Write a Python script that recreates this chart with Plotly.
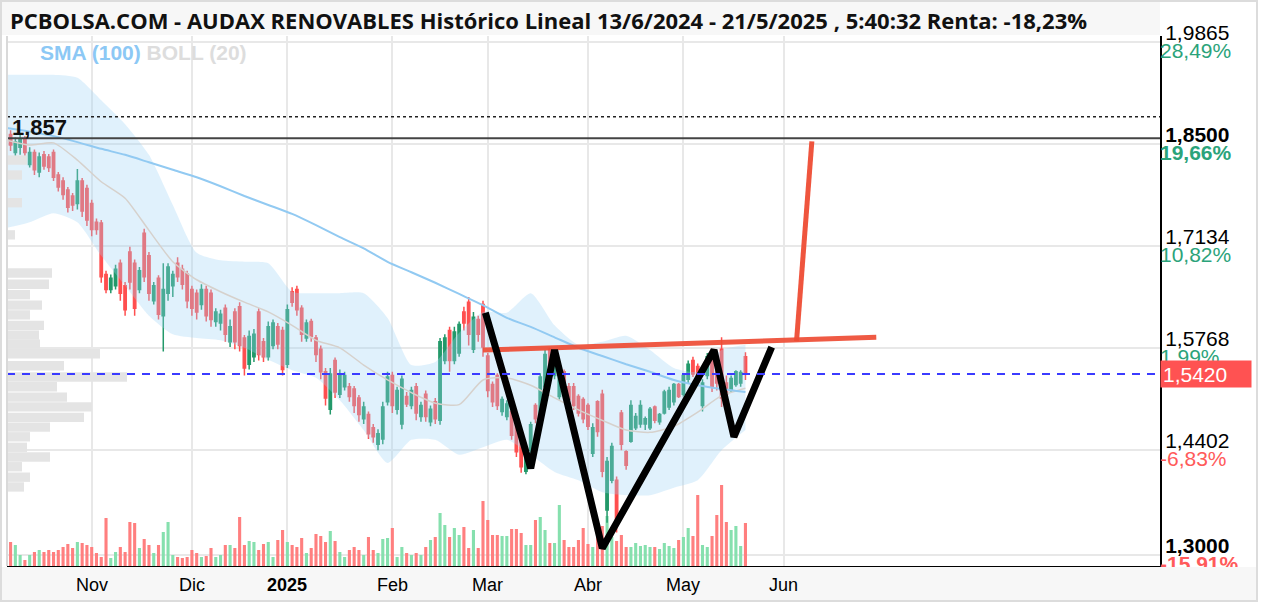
import plotly.graph_objects as go
import pandas as pd

# ---------------- DATA ----------------
holidays = ['2024-12-25', '2024-12-26', '2025-01-01', '2025-04-18', '2025-04-21', '2025-05-01']
dates = pd.bdate_range('2024-10-08', '2025-05-21', freq='C', holidays=holidays)

open_ = [1.895, 1.862, 1.838, 1.845, 1.855, 1.822, 1.838, 1.812, 1.835, 1.832,
         1.838, 1.808, 1.800, 1.788, 1.780, 1.770, 1.800, 1.790, 1.770, 1.745,
         1.744, 1.675, 1.655, 1.660, 1.690, 1.660, 1.705, 1.690, 1.655, 1.730,
         1.700, 1.640, 1.670, 1.620, 1.650, 1.660, 1.690, 1.682, 1.676, 1.655,
         1.650, 1.635, 1.655, 1.650, 1.612, 1.610, 1.630, 1.585, 1.625, 1.632,
         1.590, 1.555, 1.565, 1.625, 1.585, 1.565, 1.580, 1.605, 1.600, 1.555,
         1.652, 1.655, 1.630, 1.590, 1.612, 1.590, 1.575, 1.545, 1.495, 1.560,
         1.515, 1.525, 1.525, 1.522, 1.510, 1.482, 1.488, 1.470, 1.448, 1.455,
         1.505, 1.540, 1.495, 1.475, 1.512, 1.500, 1.525, 1.485, 1.515, 1.478,
         1.505, 1.480, 1.560, 1.600, 1.560, 1.570, 1.625, 1.638, 1.575, 1.615,
         1.635, 1.566, 1.528, 1.540, 1.492, 1.485, 1.492, 1.474, 1.462, 1.412,
         1.440, 1.500, 1.482, 1.525, 1.575, 1.540, 1.512, 1.545, 1.525, 1.525,
         1.512, 1.508, 1.500, 1.436, 1.505, 1.515, 1.360, 1.400, 1.400, 1.490,
         1.438, 1.452, 1.470, 1.475, 1.475, 1.470, 1.498, 1.478, 1.490, 1.498,
         1.505, 1.528, 1.515, 1.535, 1.560, 1.552, 1.500, 1.540, 1.565, 1.560,
         1.575, 1.530, 1.520, 1.528, 1.530, 1.565]
high = [1.910, 1.868, 1.858, 1.862, 1.860, 1.845, 1.842, 1.838, 1.840, 1.836,
        1.842, 1.812, 1.805, 1.792, 1.784, 1.816, 1.804, 1.795, 1.775, 1.750,
        1.748, 1.680, 1.675, 1.688, 1.695, 1.665, 1.712, 1.695, 1.685, 1.736,
        1.705, 1.665, 1.674, 1.690, 1.690, 1.680, 1.698, 1.688, 1.680, 1.660,
        1.655, 1.662, 1.660, 1.655, 1.630, 1.628, 1.635, 1.615, 1.630, 1.638,
        1.594, 1.600, 1.602, 1.630, 1.590, 1.612, 1.615, 1.610, 1.605, 1.635,
        1.658, 1.660, 1.634, 1.615, 1.616, 1.594, 1.580, 1.550, 1.550, 1.564,
        1.548, 1.545, 1.530, 1.526, 1.514, 1.505, 1.492, 1.475, 1.468, 1.505,
        1.545, 1.545, 1.525, 1.540, 1.518, 1.525, 1.530, 1.505, 1.520, 1.500,
        1.510, 1.590, 1.595, 1.605, 1.605, 1.612, 1.632, 1.645, 1.625, 1.620,
        1.640, 1.570, 1.532, 1.543, 1.512, 1.507, 1.494, 1.476, 1.467, 1.440,
        1.478, 1.503, 1.543, 1.574, 1.577, 1.562, 1.548, 1.548, 1.530, 1.530,
        1.515, 1.511, 1.503, 1.476, 1.507, 1.521, 1.431, 1.450, 1.405, 1.494,
        1.440, 1.507, 1.490, 1.507, 1.485, 1.498, 1.500, 1.490, 1.521, 1.525,
        1.530, 1.530, 1.543, 1.560, 1.565, 1.556, 1.535, 1.570, 1.568, 1.570,
        1.591, 1.540, 1.540, 1.547, 1.547, 1.571]
low = [1.855, 1.840, 1.832, 1.835, 1.830, 1.818, 1.808, 1.805, 1.815, 1.812,
       1.800, 1.786, 1.775, 1.758, 1.760, 1.762, 1.752, 1.740, 1.726, 1.728,
       1.664, 1.650, 1.650, 1.655, 1.640, 1.620, 1.655, 1.620, 1.650, 1.665,
       1.640, 1.635, 1.615, 1.572, 1.640, 1.645, 1.665, 1.655, 1.630, 1.620,
       1.615, 1.628, 1.612, 1.605, 1.605, 1.600, 1.585, 1.578, 1.575, 1.572,
       1.540, 1.548, 1.558, 1.560, 1.558, 1.560, 1.575, 1.575, 1.540, 1.550,
       1.632, 1.620, 1.585, 1.585, 1.585, 1.558, 1.535, 1.500, 1.488, 1.510,
       1.510, 1.520, 1.505, 1.490, 1.478, 1.475, 1.455, 1.450, 1.440, 1.448,
       1.500, 1.490, 1.488, 1.468, 1.498, 1.495, 1.480, 1.478, 1.478, 1.472,
       1.475, 1.474, 1.555, 1.545, 1.555, 1.565, 1.600, 1.580, 1.570, 1.585,
       1.565, 1.511, 1.498, 1.494, 1.486, 1.480, 1.454, 1.431, 1.410, 1.408,
       1.436, 1.476, 1.478, 1.520, 1.538, 1.535, 1.508, 1.508, 1.500, 1.494,
       1.485, 1.476, 1.467, 1.431, 1.458, 1.404, 1.343, 1.396, 1.330, 1.440,
       1.414, 1.450, 1.467, 1.470, 1.467, 1.467, 1.476, 1.474, 1.488, 1.494,
       1.500, 1.510, 1.512, 1.530, 1.538, 1.530, 1.492, 1.535, 1.518, 1.520,
       1.498, 1.508, 1.518, 1.525, 1.525, 1.534]
close = [1.862, 1.848, 1.852, 1.855, 1.838, 1.838, 1.815, 1.832, 1.820, 1.818,
         1.805, 1.792, 1.782, 1.765, 1.768, 1.800, 1.760, 1.748, 1.735, 1.735,
         1.672, 1.655, 1.670, 1.682, 1.650, 1.628, 1.665, 1.630, 1.680, 1.672,
         1.650, 1.660, 1.622, 1.655, 1.685, 1.675, 1.672, 1.662, 1.640, 1.630,
         1.625, 1.655, 1.620, 1.615, 1.625, 1.622, 1.595, 1.605, 1.585, 1.580,
         1.550, 1.592, 1.595, 1.568, 1.565, 1.605, 1.610, 1.582, 1.548, 1.628,
         1.638, 1.628, 1.595, 1.610, 1.592, 1.568, 1.545, 1.510, 1.542, 1.518,
         1.540, 1.540, 1.512, 1.500, 1.488, 1.498, 1.462, 1.458, 1.462, 1.498,
         1.538, 1.500, 1.520, 1.535, 1.502, 1.520, 1.490, 1.500, 1.485, 1.495,
         1.482, 1.585, 1.590, 1.560, 1.598, 1.608, 1.610, 1.595, 1.618, 1.595,
         1.578, 1.520, 1.505, 1.500, 1.508, 1.502, 1.460, 1.438, 1.418, 1.436,
         1.474, 1.482, 1.538, 1.568, 1.545, 1.558, 1.542, 1.515, 1.508, 1.500,
         1.490, 1.482, 1.472, 1.470, 1.465, 1.412, 1.425, 1.445, 1.345, 1.448,
         1.420, 1.500, 1.485, 1.500, 1.482, 1.495, 1.480, 1.488, 1.518, 1.520,
         1.528, 1.512, 1.540, 1.555, 1.542, 1.535, 1.530, 1.565, 1.525, 1.530,
         1.510, 1.515, 1.536, 1.545, 1.544, 1.542]
# volume, thousands of shares
volume = [520, 480, 420, 220, 120, 220, 280, 320, 280, 320,
          280, 320, 380, 440, 360, 480, 460, 420, 380, 260,
          180, 960, 160, 280, 380, 280, 880, 860, 360, 540,
          420, 260, 420, 680, 880, 220, 180, 160, 180, 320,
          260, 180, 200, 360, 180, 220, 420, 420, 360, 980,
          420, 500, 480, 320, 440, 480, 180, 520, 720, 480,
          420, 380, 560, 260, 360, 640, 600, 480, 700, 500,
          280, 180, 320, 380, 320, 220, 580, 320, 260, 540,
          560, 760, 180, 380, 260, 220, 260, 220, 380, 520,
          580, 1060, 820, 580, 760, 620, 780, 360, 720, 360,
          1300, 920, 620, 620, 600, 600, 740, 740, 660, 420,
          420, 920, 980, 720, 460, 460, 1220, 520, 380, 380,
          520, 760, 440, 380, 720, 800, 1000, 580, 500, 620,
          380, 380, 460, 400, 420, 380, 380, 340, 460, 400,
          360, 520, 580, 760, 600, 1420, 420, 380, 600, 1020,
          1620, 880, 720, 800, 400, 860]

# indicators (sampled every 5 sessions)
band_idx = list(range(0, 156, 5))
boll_upper = [1.942, 1.942, 1.942, 1.938, 1.908, 1.876, 1.835, 1.768, 1.704, 1.694,
              1.692, 1.690, 1.652, 1.650, 1.650, 1.650, 1.617, 1.554, 1.558, 1.597,
              1.625, 1.624, 1.650, 1.607, 1.581, 1.585, 1.593, 1.574, 1.550, 1.545,
              1.574, 1.581]
boll_lower = [1.737, 1.745, 1.757, 1.745, 1.700, 1.660, 1.620, 1.595, 1.590, 1.587,
              1.577, 1.561, 1.547, 1.537, 1.507, 1.467, 1.423, 1.454, 1.454, 1.434,
              1.444, 1.454, 1.434, 1.411, 1.400, 1.384, 1.380, 1.380, 1.390, 1.400,
              1.440, 1.467]
boll_mid = [1.855, 1.848, 1.851, 1.828, 1.799, 1.777, 1.734, 1.692, 1.668, 1.652,
            1.638, 1.625, 1.607, 1.587, 1.577, 1.554, 1.534, 1.517, 1.503, 1.501,
            1.534, 1.537, 1.527, 1.510, 1.494, 1.480, 1.467, 1.464, 1.472, 1.491,
            1.513, 1.523]
sma100 = [1.871, 1.866, 1.860, 1.852, 1.843, 1.835, 1.825, 1.815, 1.805, 1.793,
          1.780, 1.768, 1.756, 1.741, 1.725, 1.710, 1.692, 1.678, 1.664, 1.649,
          1.634, 1.617, 1.605, 1.591, 1.577, 1.566, 1.555, 1.545, 1.534, 1.527,
          1.522, 1.518]

# volume profile (price level, thousands of shares)
profile_price = [1.828, 1.808, 1.771, 1.728, 1.677, 1.662, 1.648, 1.634, 1.621, 1.607,
                 1.594, 1.582, 1.569, 1.553, 1.538, 1.525, 1.511, 1.498, 1.484, 1.471,
                 1.458, 1.444, 1.431, 1.418, 1.404, 1.391]
profile_volume = [2000, 1500, 1500, 800, 4500, 4200, 2300, 3500, 2300, 3700,
                  3200, 3300, 9300, 5700, 12000, 5000, 6000, 8500, 7700, 4300,
                  2300, 2000, 4300, 1500, 2300, 1700]

# chart pattern drawn by the analyst
w_dates = ['2025-02-28 12:00', '2025-03-14', '2025-03-21', '2025-04-04',
           '2025-05-12 10:00', '2025-05-16 14:00', '2025-05-28 12:00']
w_prices = [1.624, 1.416, 1.574, 1.309, 1.574, 1.458, 1.578]
neck_dates = ['2025-02-28', '2025-06-27 10:00']
neck_prices = [1.574, 1.591]
target_dates = ['2025-06-04 17:00', '2025-06-09 22:00']
target_prices = [1.586, 1.853]

max_close = 1.857
max_high = 1.886
last_price = 1.542

# axis ticks
month_ticks = ['2024-11-01', '2024-12-02', '2025-01-02', '2025-02-03',
               '2025-03-03', '2025-04-01', '2025-05-02', '2025-06-02']
month_labels = ['Nov', 'Dic', '<b>2025</b>', 'Feb', 'Mar', 'Abr', 'May', 'Jun']
price_ticks = [1.3000, 1.4402, 1.5768, 1.7134, 1.8500, 1.9865]
price_labels = ['<b>1,3000</b>', '1,4402', '1,5768', '1,7134', '<b>1,8500</b>', '1,9865']
pct_labels = ['<b>-15,91%</b>', '-6,83%', '1,99%', '10,82%', '<b>19,66%</b>', '28,49%']
pct_colors = ['#ff5a5a', '#ff5a5a', '#2ba37a', '#2ba37a', '#2ba37a', '#2ba37a']

# ---------------- GEOMETRY ----------------
FW, FH = 1264, 608
PL, PR, PT, PB = 7, 1160, 36, 566
W, H = PR - PL, PB - PT
PX_PER_UNIT = 748.0
YLO = 1.3 - (PB - 555) / PX_PER_UNIT
YHI = 1.3 + (555 - PT) / PX_PER_UNIT


def px_x(p):
    return (p - PL) / W


def px_y(p):
    return (PB - p) / H


RED = '#ff4f4f'
GREEN = '#23996a'
VRED = '#ff7f7f'
VGREEN = '#86e0ae'
FONT = 'Liberation Sans, Arial, sans-serif'

band_dates = [dates[i] for i in band_idx]
vol_colors = [VGREEN if c >= o else VRED for o, c in zip(open_, close)]

fig = go.Figure()

fig.add_trace(go.Bar(x=dates, y=volume, marker=dict(color=vol_colors, line=dict(width=0)),
                     xaxis='x', yaxis='y', hoverinfo='skip'))

fig.add_trace(go.Scatter(x=band_dates, y=boll_upper, xaxis='x', yaxis='y2', mode='lines',
                         line=dict(width=0, shape='spline', smoothing=0.6), hoverinfo='skip'))
fig.add_trace(go.Scatter(x=band_dates, y=boll_lower, xaxis='x', yaxis='y2', mode='lines',
                         line=dict(width=0, shape='spline', smoothing=0.6), fill='tonexty',
                         fillcolor='rgba(160,210,245,0.32)', hoverinfo='skip'))
fig.add_trace(go.Scatter(x=band_dates, y=boll_mid, xaxis='x', yaxis='y2', mode='lines',
                         line=dict(width=1.5, color='#d6d1cc', shape='spline', smoothing=0.6),
                         hoverinfo='skip'))
fig.add_trace(go.Scatter(x=band_dates, y=sma100, xaxis='x', yaxis='y2', mode='lines',
                         line=dict(width=2, color='#92caf2', shape='spline', smoothing=0.6),
                         hoverinfo='skip'))

fig.add_trace(go.Candlestick(x=dates, open=open_, high=high, low=low, close=close,
                             xaxis='x', yaxis='y2',
                             increasing=dict(line=dict(color=GREEN, width=1.5), fillcolor=GREEN),
                             decreasing=dict(line=dict(color=RED, width=1.5), fillcolor=RED),
                             hoverinfo='skip'))

fig.add_trace(go.Scatter(x=neck_dates, y=neck_prices, xaxis='x', yaxis='y2', mode='lines',
                         line=dict(width=5, color='rgba(238,76,52,0.92)'), hoverinfo='skip'))
fig.add_trace(go.Scatter(x=target_dates, y=target_prices, xaxis='x', yaxis='y2', mode='lines',
                         line=dict(width=5, color='rgba(238,76,52,0.95)'), hoverinfo='skip'))
fig.add_trace(go.Scatter(x=w_dates, y=w_prices, xaxis='x', yaxis='y2', mode='lines',
                         line=dict(width=7, color='#000000'), hoverinfo='skip'))

fig.add_trace(go.Bar(x=profile_volume, y=profile_price, orientation='h', xaxis='x2', yaxis='y2',
                     width=0.0125, marker=dict(color='#e4e4e4', line=dict(width=0)),
                     hoverinfo='skip'))

fig.add_trace(go.Scatter(x=dates, y=close, xaxis='x', yaxis='y3', mode='lines',
                         line=dict(width=0), opacity=0, hoverinfo='skip'))

pct_text = ["<span style='color:%s'>%s</span>" % (c, t) for t, c in zip(pct_labels, pct_colors)]

fig.update_layout(
    width=FW, height=FH,
    margin=dict(l=PL, r=FW - PR, t=PT, b=FH - PB),
    paper_bgcolor='white', plot_bgcolor='white',
    showlegend=False, bargap=0.35,
    font=dict(family=FONT, color='black'),
    xaxis=dict(type='date', range=['2024-10-08 06:00', '2025-09-18 21:00'],
               rangebreaks=[dict(bounds=['sat', 'mon']), dict(values=holidays)],
               tickvals=month_ticks, showticklabels=False, ticks='',
               showgrid=True, gridcolor='#e8e8e8', gridwidth=2,
               showline=True, linecolor='black', linewidth=2, zeroline=False,
               rangeslider=dict(visible=False), fixedrange=True),
    xaxis2=dict(overlaying='x', anchor='y2', range=[0, W * 100], visible=False, fixedrange=True),
    yaxis=dict(range=[0, H * 20], visible=False, fixedrange=True),
    yaxis2=dict(overlaying='y', side='right', anchor='x', range=[YLO, YHI],
                tickvals=price_ticks, ticktext=price_labels, ticks='',
                ticklabelshift=-9, ticklabelstandoff=-1,
                tickfont=dict(size=21, color='black', family=FONT),
                showgrid=True, gridcolor='#e8e8e8', gridwidth=2,
                showline=True, linecolor='black', linewidth=2, zeroline=False, fixedrange=True),
    yaxis3=dict(overlaying='y', side='right', anchor='x', range=[YLO, YHI],
                tickvals=price_ticks, ticktext=pct_text, ticks='',
                ticklabelshift=9, ticklabelstandoff=-1,
                tickfont=dict(size=21, color='#2ba37a', family=FONT),
                showgrid=False, showline=False, zeroline=False, fixedrange=True),
)

shapes = [
    dict(type='rect', xref='paper', yref='paper', x0=px_x(2), x1=px_x(PR), y0=px_y(35), y1=px_y(2),
         fillcolor='#f7f7f7', line=dict(width=0), layer='below'),
    dict(type='line', xref='paper', yref='y2', x0=0, x1=1, y0=max_high, y1=max_high,
         line=dict(color='#222222', width=1.5, dash='dot'), layer='above'),
    dict(type='line', xref='paper', yref='y2', x0=0, x1=1, y0=max_close, y1=max_close,
         line=dict(color='#444444', width=2), layer='above'),
    dict(type='line', xref='paper', yref='y2', x0=0, x1=1, y0=last_price, y1=last_price,
         line=dict(color='#3b3bff', width=2, dash='8px,7px'), layer='above'),
    dict(type='line', xref='paper', yref='paper', x0=0, x1=0, y0=0, y1=1,
         line=dict(color='#d9d9d9', width=2), layer='above'),
    dict(type='rect', xref='paper', yref='paper', x0=px_x(2), x1=px_x(1257), y0=px_y(600), y1=px_y(567),
         fillcolor='#f7f7f7', line=dict(width=0), layer='above'),
    dict(type='rect', xref='paper', yref='paper', x0=px_x(1), x1=px_x(1257), y0=px_y(601), y1=px_y(1),
         line=dict(color='#dcdcdc', width=2), layer='above'),
]

annotations = [
    dict(xref='paper', yref='paper', x=px_x(8), y=px_y(20), xanchor='left', yanchor='middle',
         showarrow=False,
         text='<b>PCBOLSA.COM - AUDAX RENOVABLES Histórico Lineal 13/6/2024 - 21/5/2025 , 5:40:32 Renta: -18,23%</b>',
         font=dict(family='Open Sans, sans-serif', size=22, color='#111111')),
    dict(xref='paper', yref='paper', x=px_x(38), y=px_y(52), xanchor='left', yanchor='middle',
         showarrow=False,
         text="<b><span style='color:#8cc8f5'>SMA (100)</span> <span style='color:#dddddd'>BOLL (20)</span></b>",
         font=dict(family=FONT, size=21)),
    dict(xref='paper', yref='y2', x=px_x(11), y=max_close, xanchor='left', yanchor='bottom',
         showarrow=False, borderpad=0, yshift=-3,
         text='<b>1,857</b>', font=dict(family=FONT, size=22, color='#111111')),
    dict(xref='paper', yref='y2', x=1, y=last_price, xanchor='left', yanchor='middle',
         showarrow=False, text='1,5420', bgcolor='#ff5252', width=86, height=22, borderpad=2,
         align='left', font=dict(family=FONT, size=21, color='white')),
]
for d, lab in zip(month_ticks, month_labels):
    annotations.append(dict(xref='x', yref='paper', x=d, y=px_y(585), xanchor='center',
                            yanchor='middle', showarrow=False, text=lab,
                            font=dict(family=FONT, size=18, color='black')))

fig.update_layout(shapes=shapes, annotations=annotations)

fig.write_html('out.html', config={'displayModeBar': False},
               post_script="document.body.style.margin='0';")
